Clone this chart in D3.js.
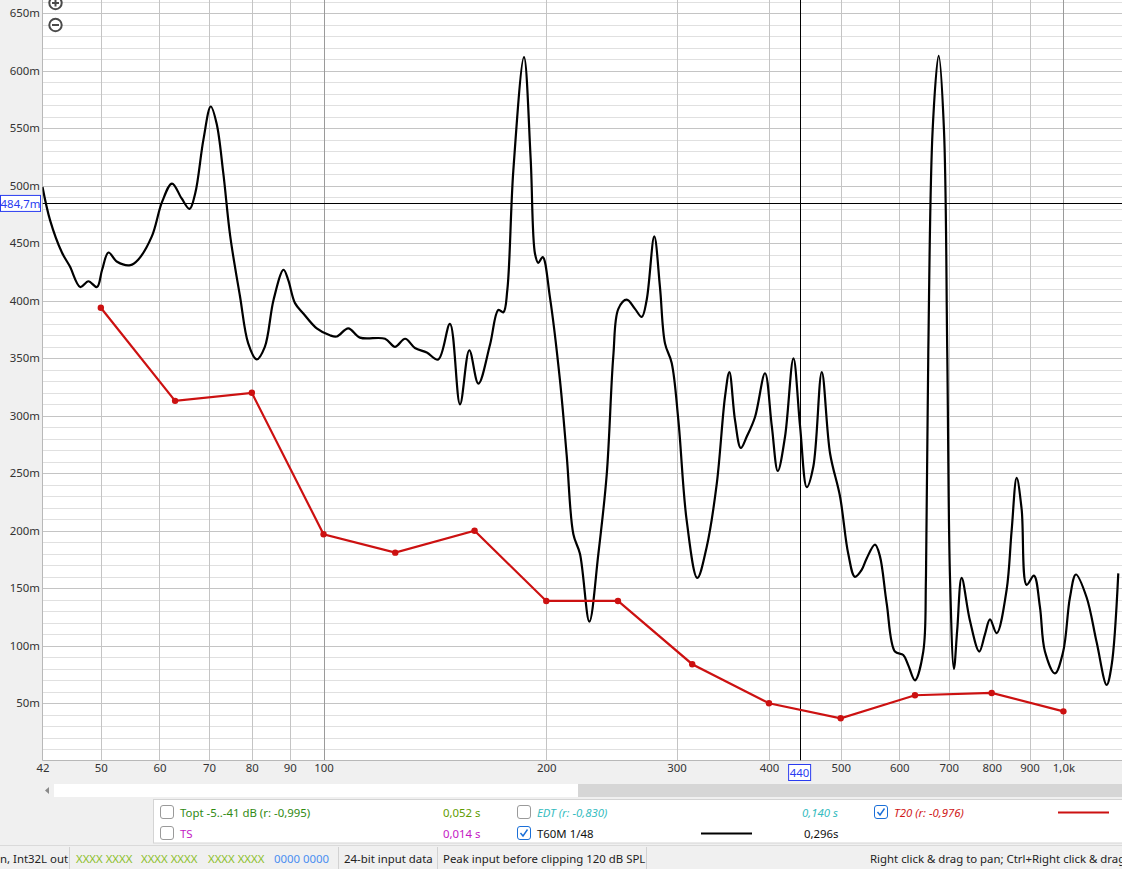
<!DOCTYPE html>
<html><head><meta charset="utf-8">
<script src="https://cdn.jsdelivr.net/npm/d3@7"></script>
<style>
html,body{margin:0;padding:0;background:#f0f0f0;overflow:hidden}
svg{display:block;font-family:"Noto Sans","Segoe UI",sans-serif}
</style></head><body>
<svg id="chart" width="1122" height="869"></svg>
<script>
// ---------- data ----------
const t60Freq = [41.7,42.7,44.3,45.4,46.9,48.1,49.4,50.2,51.2,52.6,
54.8,56.2,58.6,60.5,62.4,64.3,65.9,67.1,68.8,70.4,
71.7,73.2,74.8,77.1,79.1,81.2,83.3,85.6,88.3,89.6,
91.5,93.9,97.9,102.0,104.2,108.0,112.0,121.1,124.9,128.9,
132.9,137.9,142.9,148.2,152.9,157.4,161.9,167.9,172.3,175.0,
177.2,180.5,186.6,190.5,193.1,195.1,197.8,202.3,208.7,213.1,
217.6,222.1,228.7,235.2,241.4,246.4,250.3,256.9,263.6,269.2,
273.4,279.9,284.9,289.4,295.5,301.7,309.6,320.0,329.5,340.0,
348.9,353.6,359.9,366.4,373.3,383.0,395.1,403.5,411.1,420.5,
431.6,440.6,449.9,459.2,471.4,483.8,498.9,511.9,522.6,533.7,
542.1,556.3,564.9,576.9,592.0,607.5,617.1,630.0,646.5,652.0,
656.7,665.7,678.3,689.5,696.6,702.5,711.2,718.6,728.5,747.5,
769.6,783.3,795.7,812.4,838.1,851.1,864.6,878.0,891.9,912.3,
929.4,944.1,973.9,999.3,1020.5,1039.7,1075.0,1109.0,1144.0,1161.8,1186.2];
const t60Values = [0.499,0.470,0.442,0.430,0.412,0.417,0.412,0.427,0.442,0.434,
0.431,0.436,0.456,0.486,0.502,0.489,0.480,0.494,0.540,0.569,
0.554,0.511,0.456,0.404,0.363,0.349,0.360,0.401,0.427,0.418,
0.398,0.389,0.376,0.370,0.369,0.376,0.368,0.367,0.360,0.367,
0.359,0.355,0.349,0.380,0.310,0.357,0.328,0.362,0.392,0.390,
0.410,0.513,0.612,0.524,0.441,0.433,0.438,0.403,0.331,0.266,
0.197,0.180,0.121,0.180,0.249,0.352,0.393,0.401,0.393,0.386,
0.401,0.456,0.412,0.363,0.346,0.296,0.209,0.159,0.186,0.241,
0.317,0.338,0.296,0.272,0.282,0.299,0.337,0.291,0.252,0.282,
0.350,0.291,0.238,0.256,0.338,0.267,0.230,0.180,0.160,0.166,
0.176,0.188,0.178,0.137,0.095,0.092,0.083,0.070,0.095,0.161,
0.355,0.549,0.613,0.549,0.355,0.161,0.080,0.114,0.159,0.122,
0.095,0.110,0.123,0.111,0.149,0.200,0.246,0.219,0.153,0.161,
0.134,0.095,0.076,0.095,0.142,0.162,0.142,0.103,0.066,0.083,0.163];
const t20Freq   = [50,63,80,100,125,160,200,250,315,400,500,630,800,1000];
const t20Values = [0.394,0.313,0.320,0.197,0.181,0.200,0.139,0.139,0.084,0.050,0.037,0.057,0.059,0.043];

const yTicks = [0.05,0.10,0.15,0.20,0.25,0.30,0.35,0.40,0.45,0.50,0.55,0.60,0.65];
const yMinorTicks = [0.01,0.02,0.03,0.04,0.06,0.07,0.08,0.09,0.11,0.12,0.13,0.14,0.16,0.17,0.18,0.19,
0.21,0.22,0.23,0.24,0.26,0.27,0.28,0.29,0.31,0.32,0.33,0.34,0.36,0.37,0.38,0.39,
0.41,0.42,0.43,0.44,0.46,0.47,0.48,0.49,0.51,0.52,0.53,0.54,0.56,0.57,0.58,0.59,0.61,0.62,0.63,0.64,0.66];
const xTicks = [41.7,50,60,70,80,90,100,200,300,400,500,600,700,800,900,1000];
const xTickLabels = ["42","50","60","70","80","90","100","200","300","400","500","600","700","800","900","1,0k"];
const xDecades = [100,1000];
const cursorFreq = 440, cursorFreqLabel = "440";
const cursorValue = 0.4847, cursorValueLabel = "484,7m";

const legendRow1 = [
  {type:"box", checked:false},
  {text:"Topt -5..-41 dB (r: -0,995)", color:"#2f8a12"},
  {text:"0,052 s", color:"#5f9c00", at:443},
  {type:"box", checked:false, at:517},
  {text:"EDT (r: -0,830)", color:"#35bcc0", italic:true, at:537},
  {text:"0,140 s", color:"#35bcc0", italic:true, at:802},
  {type:"box", checked:true, at:874},
  {text:"T20 (r: -0,976)", color:"#d01818", italic:true, at:894},
  {type:"line", color:"#cc1111", at:1058, to:1109}
];
const legendRow2 = [
  {type:"box", checked:false},
  {text:"TS", color:"#c418c4"},
  {text:"0,014 s", color:"#c418c4", at:443},
  {type:"box", checked:true, at:517},
  {text:"T60M 1/48", color:"#111", at:537},
  {type:"line", color:"#000", at:701, to:752},
  {text:"0,296s", color:"#111", at:804}
];
const statusTexts = [
  {text:"n, Int32L out", x:0, color:"#222"},
  {text:"XXXX XXXX", x:76, color:"#8cbf2a"},
  {text:"XXXX XXXX", x:141, color:"#8cbf2a"},
  {text:"XXXX XXXX", x:208, color:"#8cbf2a"},
  {text:"0000 0000", x:274, color:"#4a8ef0"},
  {text:"24-bit input data", x:344, color:"#222"},
  {text:"Peak input before clipping 120 dB SPL", x:443, color:"#222"},
  {text:"Right click & drag to pan; Ctrl+Right click & drag to zoom", x:870, color:"#222"}
];
const statusSeparators = [69.5, 338.5, 437.5, 646.5];

// ---------- layout ----------
const W = 1122, H = 869;
const FS = 11.4;
const plotL = 42.5, plotR = 1122, plotT = 0, plotB = 760.5;
const svg = d3.select("#chart");
const x = d3.scaleLog().domain([41.7, 1200]).range([plotL, plotR]);
const y = d3.scaleLinear().domain([0, 0.6616]).range([760.8, 0]);
const crisp = v => Math.round(v) + 0.5;

svg.append("rect").attr("width", W).attr("height", H).attr("fill", "#f0f0f0");
svg.append("rect").attr("x", plotL).attr("y", plotT).attr("width", plotR - plotL).attr("height", plotB - plotT).attr("fill", "#fff");

// grid
const grid = svg.append("g");
grid.selectAll(".hmin").data(yMinorTicks).join("line")
  .attr("x1", plotL).attr("x2", plotR)
  .attr("y1", d => crisp(y(d))).attr("y2", d => crisp(y(d)))
  .attr("stroke", "#e0e0e0").attr("stroke-width", 1);
grid.selectAll(".hmaj").data(yTicks).join("line")
  .attr("x1", plotL).attr("x2", plotR)
  .attr("y1", d => crisp(y(d))).attr("y2", d => crisp(y(d)))
  .attr("stroke", "#c4c4c4").attr("stroke-width", 1);
grid.selectAll(".vmaj").data(xTicks.slice(1)).join("line")
  .attr("x1", d => crisp(x(d))).attr("x2", d => crisp(x(d)))
  .attr("y1", plotT).attr("y2", plotB)
  .attr("stroke", d => xDecades.includes(d) ? "#9a9a9a" : "#c4c4c4").attr("stroke-width", 1);

// plot frame (left and bottom)
svg.append("line").attr("x1", plotL).attr("x2", plotL).attr("y1", 0).attr("y2", plotB).attr("stroke", "#b8b8b8");
svg.append("line").attr("x1", plotL).attr("x2", plotR).attr("y1", plotB).attr("y2", plotB).attr("stroke", "#b8b8b8");

// axes labels through d3 axes
const yAxis = d3.axisLeft(y).tickValues(yTicks).tickSize(0).tickPadding(0)
  .tickFormat(d => Math.round(d * 1000) + "m");
const gy = svg.append("g").attr("transform", "translate(40,0)").call(yAxis);
gy.select(".domain").remove();
gy.selectAll("text").attr("font-size", FS).attr("fill", "#333").attr("font-family", "Noto Sans");

const xAxis = d3.axisBottom(x).tickValues(xTicks).tickSize(0).tickPadding(0)
  .tickFormat((d, i) => xTickLabels[i]);
const gx = svg.append("g").attr("transform", "translate(0,764)").call(xAxis);
gx.select(".domain").remove();
gx.selectAll("text").attr("font-size", FS).attr("fill", "#333").attr("font-family", "Noto Sans");

// clip for curves
svg.append("clipPath").attr("id", "clip").append("rect")
  .attr("x", plotL).attr("y", plotT).attr("width", plotR - plotL).attr("height", plotB - plotT);
const plot = svg.append("g").attr("clip-path", "url(#clip)");

// cursor lines
plot.append("line").attr("x1", plotL).attr("x2", plotR)
  .attr("y1", crisp(y(cursorValue))).attr("y2", crisp(y(cursorValue)))
  .attr("stroke", "#000").attr("stroke-width", 1);
plot.append("line").attr("x1", crisp(x(cursorFreq))).attr("x2", crisp(x(cursorFreq)))
  .attr("y1", plotT).attr("y2", plotB).attr("stroke", "#000").attr("stroke-width", 1);

// T60M curve
const t60 = t60Freq.map((f, i) => [f, t60Values[i]]);
const line60 = d3.line().x(d => x(d[0])).y(d => y(d[1])).curve(d3.curveCatmullRom.alpha(0.5));
plot.append("path").datum(t60).attr("d", line60)
  .attr("fill", "none").attr("stroke", "#000").attr("stroke-width", 2.2).attr("stroke-linejoin", "round");

// T20 curve
const t20 = t20Freq.map((f, i) => [f, t20Values[i]]);
const line20 = d3.line().x(d => x(d[0])).y(d => y(d[1]));
plot.append("path").datum(t20).attr("d", line20)
  .attr("fill", "none").attr("stroke", "#cc1111").attr("stroke-width", 2.2);
plot.selectAll(".dot").data(t20).join("circle")
  .attr("cx", d => x(d[0])).attr("cy", d => y(d[1])).attr("r", 3.2).attr("fill", "#cc1111");

// cursor labels
const cy = y(cursorValue);
svg.append("rect").attr("x", 0.5).attr("y", cy - 8).attr("width", 40).attr("height", 16)
  .attr("fill", "#fff").attr("stroke", "#2a3cf0");
svg.append("text").attr("x", 20.5).attr("y", cy).attr("text-anchor", "middle").attr("dominant-baseline", "central")
  .attr("font-size", FS).attr("fill", "#2a3cf0").text(cursorValueLabel);
const cx = x(cursorFreq);
svg.append("rect").attr("x", cx - 11).attr("y", 764.5).attr("width", 22).attr("height", 16)
  .attr("fill", "#fff").attr("stroke", "#2a3cf0");
svg.append("text").attr("x", cx).attr("y", 772.5).attr("text-anchor", "middle").attr("dominant-baseline", "central")
  .attr("font-size", FS).attr("fill", "#2a3cf0").text(cursorFreqLabel);

// zoom icons
function zoomIcon(cx0, cy0, plus) {
  const g = svg.append("g");
  g.append("circle").attr("cx", cx0).attr("cy", cy0).attr("r", 6.2).attr("fill", "#fff").attr("stroke", "#4a4a4a").attr("stroke-width", 2);
  g.append("line").attr("x1", cx0 - 3.5).attr("x2", cx0 + 3.5).attr("y1", cy0).attr("y2", cy0).attr("stroke", "#4a4a4a").attr("stroke-width", 2);
  if (plus) g.append("line").attr("x1", cx0).attr("x2", cx0).attr("y1", cy0 - 3.5).attr("y2", cy0 + 3.5).attr("stroke", "#4a4a4a").attr("stroke-width", 2);
}
zoomIcon(55.5, 3, true);
zoomIcon(55.5, 25, false);

// scrollbar
svg.append("rect").attr("x", 54).attr("y", 784).attr("width", 524).attr("height", 13).attr("fill", "#fff");
svg.append("rect").attr("x", 578).attr("y", 784).attr("width", 544).attr("height", 13).attr("fill", "#d6d6d6");
svg.append("path").attr("d", "M45,790.5 L49,787 L49,794 Z").attr("fill", "#8a8a8a");

// legend
svg.append("rect").attr("x", 153.5).attr("y", 799.5).attr("width", 980).attr("height", 43.5)
  .attr("fill", "#fff").attr("stroke", "#d4d4d4");
function drawRow(items, cyRow) {
  items.forEach(it => {
    const ax = it.at !== undefined ? it.at : null;
    if (it.type === "box") {
      const bx = ax !== null ? ax : 160;
      svg.append("rect").attr("x", bx + 0.5).attr("y", cyRow - 6.5).attr("width", 13).attr("height", 13).attr("rx", 2.5)
        .attr("fill", "#fff").attr("stroke", it.checked ? "#1a6fd8" : "#9a9a9a").attr("stroke-width", 1);
      if (it.checked) {
        svg.append("path").attr("d", `M${bx + 3.5},${cyRow} L${bx + 6},${cyRow + 3} L${bx + 10.5},${cyRow - 3.5}`)
          .attr("fill", "none").attr("stroke", "#1a6fd8").attr("stroke-width", 1.4);
      }
    } else if (it.type === "line") {
      svg.append("line").attr("x1", it.at).attr("x2", it.to).attr("y1", cyRow + 0.5).attr("y2", cyRow + 0.5)
        .attr("stroke", it.color).attr("stroke-width", 2);
    } else {
      svg.append("text").attr("x", ax !== null ? ax : 180).attr("y", cyRow).attr("dominant-baseline", "central")
        .attr("font-size", FS).attr("fill", it.color).attr("font-style", it.italic ? "italic" : "normal").text(it.text);
    }
  });
}
drawRow(legendRow1, 812);
drawRow(legendRow2, 833);

// status bar
svg.append("rect").attr("x", 0).attr("y", 845).attr("width", W).attr("height", 24).attr("fill", "#f0f0f0");
svg.append("line").attr("x1", 0).attr("x2", W).attr("y1", 845.5).attr("y2", 845.5).attr("stroke", "#dadada");
svg.selectAll(".sep").data(statusSeparators).join("line")
  .attr("x1", d => d).attr("x2", d => d).attr("y1", 847).attr("y2", 869).attr("stroke", "#d2d2d2");
svg.selectAll(".st").data(statusTexts).join("text")
  .attr("x", d => d.x).attr("y", 858.5).attr("dominant-baseline", "central")
  .attr("font-size", FS).attr("fill", d => d.color).text(d => d.text);
</script>
</body></html>
